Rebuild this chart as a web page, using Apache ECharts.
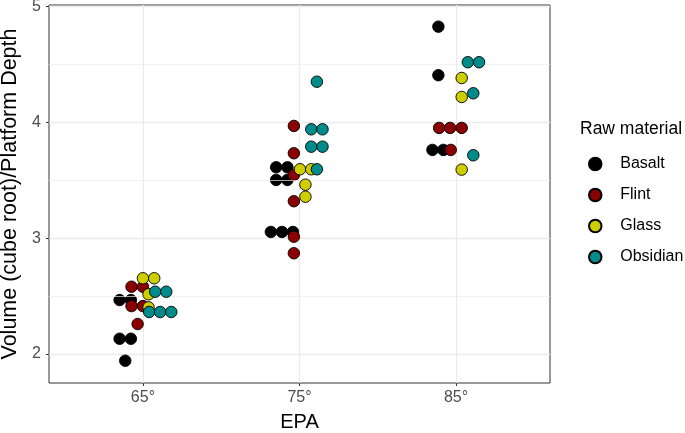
<!DOCTYPE html>
<html>
<head>
<meta charset="utf-8">
<script src="https://cdn.jsdelivr.net/npm/echarts@6/dist/echarts.min.js"></script>
<style>html,body{margin:0;padding:0;background:#fff;}#c{width:685px;height:433px;}</style>
</head>
<body>
<div id="c"></div>
<script>
// EPA categories at x positions 1,2,3
const xTickValues = [1, 2, 3];
const xTickLabels = ['65°', '75°', '85°'];
const yTickValues = [2, 3, 4, 5];
const yMinorValues = [2.5, 3.5, 4.5];
const materials = ['Basalt', 'Flint', 'Glass', 'Obsidian'];

const basaltX = [0.851, 0.923, 0.851, 0.923, 0.887, 1.851, 1.923, 1.851, 1.923, 1.817, 1.888, 1.958, 2.887, 2.887, 2.849, 2.919];
const basaltY = [2.466, 2.466, 2.132, 2.132, 1.942, 3.612, 3.612, 3.503, 3.503, 3.054, 3.054, 3.054, 4.826, 4.407, 3.762, 3.762];

const flintX = [0.927, 1.000, 0.927, 1.000, 0.966, 1.964, 1.964, 1.964, 1.964, 1.964, 1.964, 2.892, 2.962, 3.036, 2.966];
const flintY = [2.581, 2.581, 2.414, 2.414, 2.259, 3.969, 3.733, 3.546, 3.319, 3.013, 2.870, 3.952, 3.952, 3.952, 3.762];

const glassX = [1.000, 1.072, 1.036, 1.036, 2.003, 2.075, 2.038, 2.038, 3.036, 3.036, 3.036];
const glassY = [2.654, 2.654, 2.516, 2.403, 3.595, 3.595, 3.462, 3.358, 4.383, 4.219, 3.592];

const obsidianX = [1.078, 1.149, 1.040, 1.110, 1.181, 2.111, 2.075, 2.147, 2.075, 2.147, 2.111, 3.075, 3.147, 3.110, 3.110];
const obsidianY = [2.538, 2.538, 2.363, 2.363, 2.363, 4.351, 3.940, 3.940, 3.790, 3.790, 3.595, 4.519, 4.519, 4.251, 3.716];

const colors = ['#000000', '#8B0000', '#CDCD00', '#008B8B'];
const xs = [basaltX, flintX, glassX, obsidianX];
const ys = [basaltY, flintY, glassY, obsidianY];
const FONT = 'Liberation Sans, Arial, sans-serif';

const chart = echarts.init(document.getElementById('c'), null, {renderer: 'canvas'});

const series = materials.map((m, i) => ({
  name: m,
  type: 'scatter',
  symbol: 'circle',
  symbolSize: 11.5,
  z: 3 + i,
  itemStyle: {color: colors[i], borderColor: '#000', borderWidth: 0.9, opacity: 1},
  emphasis: {disabled: true},
  data: xs[i].map((x, j) => [x, ys[i][j]])
}));

series.unshift({
  type: 'scatter',
  data: [],
  z: 1,
  silent: true,
  markLine: {
    silent: true,
    symbol: ['none', 'none'],
    label: {show: false},
    animation: false,
    lineStyle: {color: '#ebebeb', width: 0.7, type: 'solid'},
    data: yMinorValues.map(v => ({yAxis: v}))
  }
});

chart.setOption({
  animation: false,
  backgroundColor: '#ffffff',
  textStyle: {fontFamily: FONT},
  grid: {left: 49, right: 135, top: 5, bottom: 50, show: true, backgroundColor: '#fff', borderColor: '#333333', borderWidth: 1, containLabel: false, outerBoundsMode: 'none'},
  title: {
    text: 'Raw material', left: 575, top: 115,
    textStyle: {fontFamily: FONT, fontSize: 17.5, fontWeight: 'normal', color: '#000'}
  },
  legend: {
    data: materials,
    orient: 'vertical',
    left: 583, top: 151,
    itemWidth: 40, itemHeight: 12.5, itemGap: 15,
    icon: 'circle',
    textStyle: {fontFamily: FONT, fontSize: 16, color: '#000', lineHeight: 14},
    selectedMode: false
  },
  xAxis: {
    type: 'value', min: 0.4, max: 3.6,
    name: 'EPA', nameLocation: 'middle', nameGap: 29,
    nameTextStyle: {fontFamily: FONT, fontSize: 20, color: '#000'},
    axisLine: {show: false},
    axisTick: {show: true, length: 3, customValues: xTickValues, lineStyle: {color: '#333', width: 1}},
    axisLabel: {customValues: xTickValues, margin: 7, fontFamily: FONT, fontSize: 16, color: '#4d4d4d',
      formatter: v => xTickLabels[xTickValues.indexOf(Math.round(v))] || ''},
    splitLine: {show: true, lineStyle: {color: '#ebebeb', width: 1.3}}
  },
  yAxis: {
    type: 'value', min: 1.75, max: 5.013,
    name: 'Volume (cube root)/Platform Depth', nameLocation: 'middle', nameGap: 14,
    nameTextStyle: {fontFamily: FONT, fontSize: 21.5, color: '#000'},
    axisLine: {show: false},
    axisTick: {show: true, length: 3, customValues: yTickValues, lineStyle: {color: '#333', width: 1}},
    axisLabel: {customValues: yTickValues, margin: 8, fontFamily: FONT, fontSize: 16, color: '#4d4d4d'},
    splitLine: {show: true, lineStyle: {color: '#ebebeb', width: 1.3}}
  },
  series: series
});
</script>
</body>
</html>
